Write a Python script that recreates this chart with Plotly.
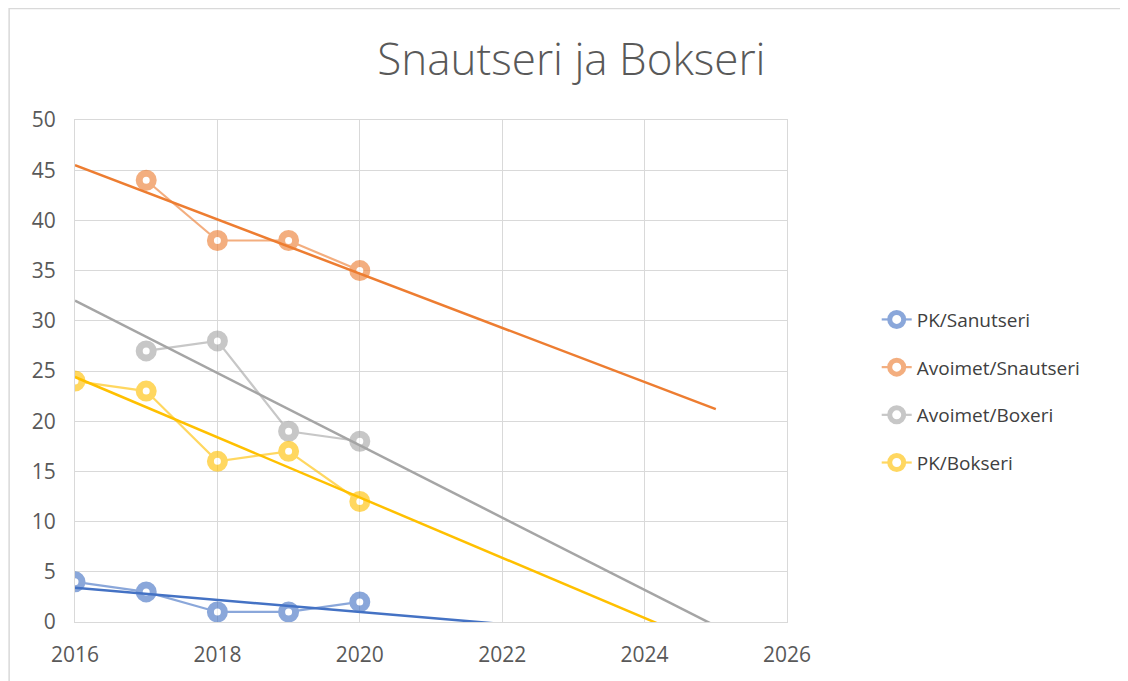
import numpy as np
import plotly.graph_objects as go

# ---- data ----
series_names = ["PK/Sanutseri", "Avoimet/Snautseri", "Avoimet/Boxeri", "PK/Bokseri"]
years_pk_sanutseri = [2016, 2017, 2018, 2019, 2020]
pk_sanutseri = [4, 3, 1, 1, 2]
years_avoimet_snautseri = [2017, 2018, 2019, 2020]
avoimet_snautseri = [44, 38, 38, 35]
years_avoimet_boxeri = [2017, 2018, 2019, 2020]
avoimet_boxeri = [27, 28, 19, 18]
years_pk_bokseri = [2016, 2017, 2018, 2019, 2020]
pk_bokseri = [24, 23, 16, 17, 12]
# trendline extents (years), as in the Excel trendline forecast settings
trend_start = [2016, 2016, 2016, 2016]
trend_end = [2025, 2025, 2025, 2025]
x_ticks = [2016, 2018, 2020, 2022, 2024, 2026]
y_ticks = [0, 5, 10, 15, 20, 25, 30, 35, 40, 45, 50]

colors = ["#4472C4", "#ED7D31", "#A5A5A5", "#FFC000"]

xs = [years_pk_sanutseri, years_avoimet_snautseri, years_avoimet_boxeri, years_pk_bokseri]
ys = [pk_sanutseri, avoimet_snautseri, avoimet_boxeri, pk_bokseri]

fig = go.Figure()

for i, name in enumerate(series_names):
    fig.add_trace(go.Scatter(
        x=xs[i], y=ys[i], name=name, mode="lines+markers",
        legendgroup=name,
        line=dict(color=colors[i], width=2.2),
        marker=dict(symbol="circle", size=14, color="white",
                    line=dict(color=colors[i], width=7)),
        opacity=0.62,
    ))

for i, name in enumerate(series_names):
    slope, intercept = np.polyfit(xs[i], ys[i], 1)
    tx = [trend_start[i], trend_end[i]]
    ty = [slope * t + intercept for t in tx]
    fig.add_trace(go.Scatter(
        x=tx, y=ty, mode="lines", showlegend=False, hoverinfo="skip",
        line=dict(color=colors[i], width=2.5),
    ))

fig.update_layout(
    width=1120, height=673,
    paper_bgcolor="white", plot_bgcolor="white",
    margin=dict(l=67, r=341, t=112, b=59, autoexpand=False),
    font=dict(family="Open Sans, Noto Sans, sans-serif", color="#595959", size=19),
    title=dict(text="Snautseri ja Bokseri", x=0.503, xanchor="center",
               xref="container", yref="container", y=0.923, yanchor="middle",
               font=dict(size=44, color="#595959", family="Open Sans, sans-serif",
                         weight=300)),
    legend=dict(x=1.126, y=0.46, xanchor="left", yanchor="middle",
                font=dict(size=19, color="#404040"),
                tracegroupgap=20, bgcolor="rgba(0,0,0,0)"),
    showlegend=True,
    shapes=[dict(type="rect", xref="paper", yref="paper",
                 x0=-0.0925, x1=1.475, y0=-0.2, y1=1.222,
                 line=dict(color="#d9d9d9", width=1.5), layer="below")],
)
fig.update_xaxes(range=[2016, 2026], tickvals=x_ticks, ticktext=[str(v) for v in x_ticks],
                 showgrid=True, gridcolor="#d9d9d9", gridwidth=1,
                 zeroline=False, showline=True, linecolor="#d9d9d9", mirror=True,
                 ticks="outside", ticklen=14, tickcolor="rgba(0,0,0,0)",
                 automargin=False, tickfont=dict(size=21, color="#595959"))
fig.update_yaxes(range=[0, 50], tickvals=y_ticks,
                 showgrid=True, gridcolor="#d9d9d9", gridwidth=1,
                 zeroline=False, showline=True, linecolor="#d9d9d9", mirror=True,
                 ticks="outside", ticklen=14, tickcolor="rgba(0,0,0,0)",
                 automargin=False, tickfont=dict(size=21, color="#595959"))

fig.write_html("out.html")
